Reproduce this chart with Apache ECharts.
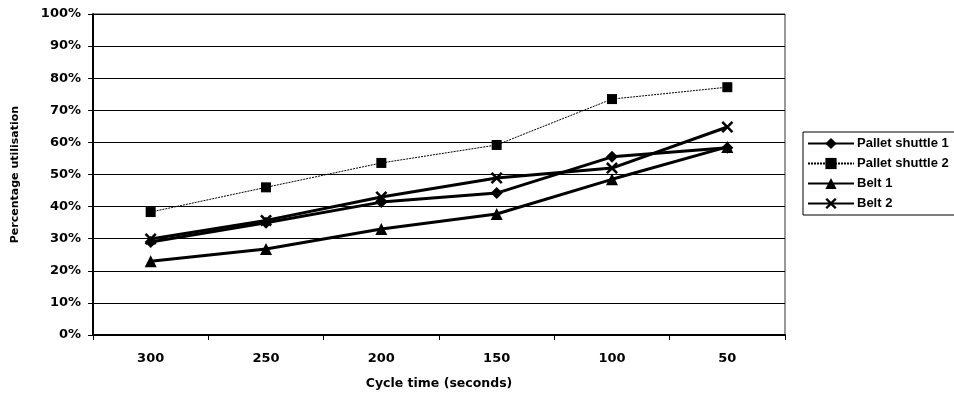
<!DOCTYPE html>
<html><head><meta charset="utf-8">
<script src="https://cdn.jsdelivr.net/npm/echarts@6/dist/echarts.min.js"></script>
<style>html,body{margin:0;padding:0;background:#fff}#c{width:954px;height:394px}</style>
</head><body><div id="c"></div>
<script>
const categories = ['300', '250', '200', '150', '100', '50'];
const palletShuttle1 = [0.29, 0.35, 0.414, 0.442, 0.555, 0.583];
const palletShuttle2 = [0.383, 0.46, 0.536, 0.592, 0.735, 0.772];
const belt1 = [0.23, 0.268, 0.33, 0.377, 0.485, 0.586];
const belt2 = [0.299, 0.357, 0.43, 0.489, 0.52, 0.648];
const yTicks = [0, 0.1, 0.2, 0.3, 0.4, 0.5, 0.6, 0.7, 0.8, 0.9, 1];

const AXFONT = '"DejaVu Sans", sans-serif';
const LGFONT = '"Liberation Sans", Arial, sans-serif';
const xPath = 'path://M0,3 L3,0 L10,7 L17,0 L20,3 L13,10 L20,17 L17,20 L10,13 L3,20 L0,17 L7,10 Z';

const chart = echarts.init(document.getElementById('c'), null, {renderer: 'canvas'});
function mk(name, data, symbol, size, width, type) {
  return {
    name, type: 'line', data, symbol, symbolSize: size, showSymbol: true,
    lineStyle: {color: '#000', width, type},
    itemStyle: {color: '#000'},
    emphasis: {disabled: true},
    animation: false
  };
}
chart.setOption({
  backgroundColor: '#fff',
  animation: false,
  grid: {left: 93, right: 169, top: 14, bottom: 59, show: true, borderColor: '#333', borderWidth: 1,
    containLabel: false, outerBoundsMode: 'none'},
  legend: {
    orient: 'vertical', left: 803, top: 132,
    itemWidth: 46, itemHeight: 14, itemGap: 7,
    padding: [5, 20, 5, 4],
    borderColor: '#000', borderWidth: 1,
    textStyle: {fontFamily: LGFONT, fontWeight: 'bold', fontSize: 13, color: '#000', padding: [0, 0, 0, -2]},
    data: ['Pallet shuttle 1', 'Pallet shuttle 2', 'Belt 1', 'Belt 2']
  },
  xAxis: {
    type: 'category', data: categories, boundaryGap: true,
    name: 'Cycle time (seconds)', nameLocation: 'middle', nameGap: 42,
    nameTextStyle: {fontFamily: AXFONT, fontWeight: 'bold', fontSize: 12.5, color: '#000'},
    axisLine: {lineStyle: {color: '#000', width: 2}},
    axisTick: {show: true, length: 5, lineStyle: {color: '#000', width: 1}, alignWithLabel: false},
    axisLabel: {fontFamily: AXFONT, fontWeight: 'bold', fontSize: 13, color: '#000', margin: 17},
    splitLine: {show: false}
  },
  yAxis: {
    type: 'value', min: yTicks[0], max: yTicks[yTicks.length - 1], interval: 0.1,
    name: 'Percentage utilisation', nameLocation: 'middle', nameGap: 72, nameRotate: 90,
    nameTextStyle: {fontFamily: AXFONT, fontWeight: 'bold', fontSize: 11, color: '#000'},
    axisLine: {show: true, lineStyle: {color: '#000', width: 2}},
    axisTick: {show: true, length: 5, lineStyle: {color: '#000'}},
    axisLabel: {fontFamily: AXFONT, fontWeight: 'bold', fontSize: 13, color: '#000', margin: 12,
      formatter: v => Math.round(v * 100) + '%'},
    splitLine: {show: true, lineStyle: {color: '#000', width: 1}}
  },
  series: [
    mk('Pallet shuttle 1', palletShuttle1, 'diamond', 12, 3, 'solid'),
    mk('Pallet shuttle 2', palletShuttle2, 'rect', 10, 1, [2, 1]),
    mk('Belt 1', belt1, 'triangle', 12, 3, 'solid'),
    mk('Belt 2', belt2, xPath, 12, 3, 'solid')
  ]
});
</script></body></html>
